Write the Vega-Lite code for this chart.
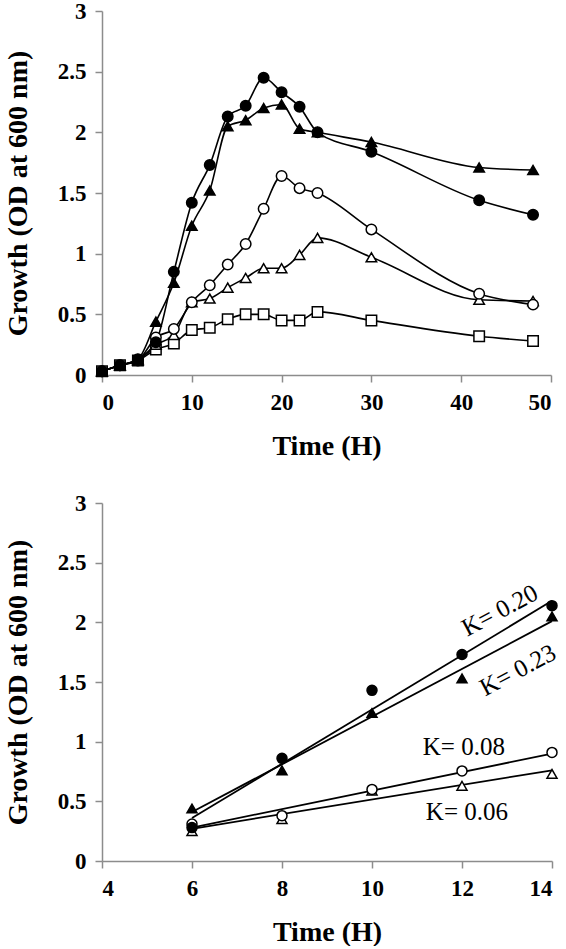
{
  "$schema": "https://vega.github.io/schema/vega-lite/v6.json",
  "padding": {"top": 0, "left": 4, "right": 6, "bottom": 0},
  "config": {
    "view": {"stroke": null},
    "font": "Liberation Serif",
    "axis": {"grid": false, "domainColor": "#8c8c8c", "tickColor": "#8c8c8c", "domainWidth": 1.5, "tickWidth": 1.5, "tickSize": 7,
      "labelFont": "Liberation Serif", "labelFontWeight": "bold", "labelFontSize": 23, "labelColor": "#000", "labelPadding": 9,
      "titleFont": "Liberation Serif", "titleFontWeight": "bold", "titleFontSize": 28, "titleColor": "#000"},
    "axisX": {"titlePadding": 18},
    "axisY": {"titlePadding": 25},
    "concat": {"spacing": 32}
  },
  "datasets": {
    "growth": [
      {"s":"E","t":0,"od":0.03},{"s":"E","t":2,"od":0.08},{"s":"E","t":4,"od":0.12},{"s":"E","t":6,"od":0.21},{"s":"E","t":8,"od":0.26},{"s":"E","t":10,"od":0.37},{"s":"E","t":12,"od":0.39},{"s":"E","t":14,"od":0.46},{"s":"E","t":16,"od":0.5},{"s":"E","t":18,"od":0.5},{"s":"E","t":20,"od":0.45},{"s":"E","t":22,"od":0.45},{"s":"E","t":24,"od":0.52},{"s":"E","t":30,"od":0.45},{"s":"E","t":42,"od":0.32},{"s":"E","t":48,"od":0.28},
      {"s":"D","t":0,"od":0.03},{"s":"D","t":2,"od":0.08},{"s":"D","t":4,"od":0.12},{"s":"D","t":6,"od":0.25},{"s":"D","t":8,"od":0.33},{"s":"D","t":10,"od":0.6},{"s":"D","t":12,"od":0.63},{"s":"D","t":14,"od":0.72},{"s":"D","t":16,"od":0.8},{"s":"D","t":18,"od":0.88},{"s":"D","t":20,"od":0.88},{"s":"D","t":22,"od":0.99},{"s":"D","t":24,"od":1.13},{"s":"D","t":30,"od":0.97},{"s":"D","t":42,"od":0.62},{"s":"D","t":48,"od":0.61},
      {"s":"C","t":0,"od":0.03},{"s":"C","t":2,"od":0.08},{"s":"C","t":4,"od":0.12},{"s":"C","t":6,"od":0.31},{"s":"C","t":8,"od":0.38},{"s":"C","t":10,"od":0.6},{"s":"C","t":12,"od":0.74},{"s":"C","t":14,"od":0.91},{"s":"C","t":16,"od":1.08},{"s":"C","t":18,"od":1.37},{"s":"C","t":20,"od":1.64},{"s":"C","t":22,"od":1.54},{"s":"C","t":24,"od":1.5},{"s":"C","t":30,"od":1.2},{"s":"C","t":42,"od":0.67},{"s":"C","t":48,"od":0.58},
      {"s":"B","t":0,"od":0.03},{"s":"B","t":2,"od":0.08},{"s":"B","t":4,"od":0.13},{"s":"B","t":6,"od":0.44},{"s":"B","t":8,"od":0.76},{"s":"B","t":10,"od":1.23},{"s":"B","t":12,"od":1.52},{"s":"B","t":14,"od":2.05},{"s":"B","t":16,"od":2.1},{"s":"B","t":18,"od":2.2},{"s":"B","t":20,"od":2.23},{"s":"B","t":22,"od":2.03},{"s":"B","t":24,"od":2.0},{"s":"B","t":30,"od":1.92},{"s":"B","t":42,"od":1.71},{"s":"B","t":48,"od":1.69},
      {"s":"A","t":0,"od":0.03},{"s":"A","t":2,"od":0.08},{"s":"A","t":4,"od":0.13},{"s":"A","t":6,"od":0.27},{"s":"A","t":8,"od":0.85},{"s":"A","t":10,"od":1.42},{"s":"A","t":12,"od":1.73},{"s":"A","t":14,"od":2.13},{"s":"A","t":16,"od":2.22},{"s":"A","t":18,"od":2.45},{"s":"A","t":20,"od":2.33},{"s":"A","t":22,"od":2.21},{"s":"A","t":24,"od":2.0},{"s":"A","t":30,"od":1.84},{"s":"A","t":42,"od":1.44},{"s":"A","t":48,"od":1.32}
    ],
    "early": [
      {"s":"D","t":6,"od":0.25},{"s":"D","t":8,"od":0.35},{"s":"D","t":10,"od":0.59},{"s":"D","t":12,"od":0.63},{"s":"D","t":14,"od":0.73},
      {"s":"C","t":6,"od":0.31},{"s":"C","t":8,"od":0.38},{"s":"C","t":10,"od":0.6},{"s":"C","t":12,"od":0.755},{"s":"C","t":14,"od":0.91},
      {"s":"B","t":6,"od":0.44},{"s":"B","t":8,"od":0.76},{"s":"B","t":10,"od":1.24},{"s":"B","t":12,"od":1.53},{"s":"B","t":14,"od":2.05},
      {"s":"A","t":6,"od":0.28},{"s":"A","t":8,"od":0.86},{"s":"A","t":10,"od":1.43},{"s":"A","t":12,"od":1.73},{"s":"A","t":14,"od":2.14}
    ],
    "fits": [
      {"s":"A","t":6,"od":0.36},{"s":"A","t":14,"od":2.18},
      {"s":"B","t":6,"od":0.41},{"s":"B","t":14,"od":2.01},
      {"s":"C","t":6,"od":0.28},{"s":"C","t":14,"od":0.9},
      {"s":"D","t":6,"od":0.27},{"s":"D","t":14,"od":0.76}
    ],
    "kSloped": [
      {"label":"K= 0.20","t":12.84,"od":2.1},
      {"label":"K= 0.23","t":13.24,"od":1.6}
    ],
    "kFlat": [
      {"label":"K= 0.08","t":12.04,"od":0.955},
      {"label":"K= 0.06","t":12.11,"od":0.41}
    ]
  },
  "vconcat": [
    {
      "width": 449,
      "height": 364,
      "data": {"name": "growth"},
      "encoding": {
        "x": {"field": "t", "type": "quantitative", "scale": {"domain": [0, 50]}, "axis": {"values": [0,10,20,30,40,50], "title": "Time (H)"}},
        "y": {"field": "od", "type": "quantitative", "scale": {"domain": [0, 3]}, "axis": {"values": [0,0.5,1,1.5,2,2.5,3], "format": "~g", "title": "Growth (OD at 600 nm)"}}
      },
      "layer": [
        {"mark": {"type": "line", "interpolate": "monotone", "color": "black", "strokeWidth": 1.6}, "encoding": {"detail": {"field": "s"}}},
        {"mark": {"type": "point", "size": 110, "stroke": "black", "strokeWidth": 1.5, "opacity": 1, "fillOpacity": 1, "strokeOpacity": 1},
          "encoding": {
            "shape": {"field": "s", "type": "nominal", "scale": {"domain": ["A","B","C","D","E"], "range": ["circle","triangle-up","circle","triangle-up","square"]}, "legend": null},
            "fill": {"field": "s", "type": "nominal", "scale": {"domain": ["A","B","C","D","E"], "range": ["black","black","white","white","white"]}, "legend": null}
          }}
      ]
    },
    {
      "width": 450,
      "height": 358,
      "encoding": {
        "x": {"field": "t", "type": "quantitative", "scale": {"domain": [4, 14]}, "axis": {"values": [4,6,8,10,12,14], "title": "Time (H)"}},
        "y": {"field": "od", "type": "quantitative", "scale": {"domain": [0, 3]}, "axis": {"values": [0,0.5,1,1.5,2,2.5,3], "format": "~g", "title": "Growth (OD at 600 nm)"}}
      },
      "layer": [
        {"data": {"name": "fits"}, "mark": {"type": "line", "color": "black", "strokeWidth": 1.8}, "encoding": {"detail": {"field": "s"}}},
        {"data": {"name": "early"}, "mark": {"type": "point", "size": 100, "stroke": "black", "strokeWidth": 1.5, "opacity": 1, "fillOpacity": 1, "strokeOpacity": 1},
          "encoding": {
            "shape": {"field": "s", "type": "nominal", "scale": {"domain": ["A","B","C","D"], "range": ["circle","triangle-up","circle","triangle-up"]}, "legend": null},
            "fill": {"field": "s", "type": "nominal", "scale": {"domain": ["A","B","C","D"], "range": ["black","black","white","white"]}, "legend": null}
          }},
        {"data": {"name": "kSloped"}, "mark": {"type": "text", "font": "Liberation Serif", "fontSize": 25, "angle": 332, "align": "center", "baseline": "middle", "color": "black"}, "encoding": {"text": {"field": "label"}}},
        {"data": {"name": "kFlat"}, "mark": {"type": "text", "font": "Liberation Serif", "fontSize": 25, "align": "center", "baseline": "middle", "color": "black"}, "encoding": {"text": {"field": "label"}}}
      ]
    }
  ]
}
